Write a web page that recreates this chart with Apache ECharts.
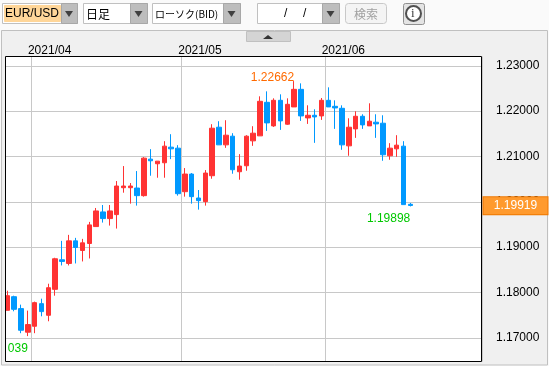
<!DOCTYPE html>
<html>
<head>
<meta charset="utf-8">
<title>EUR/USD</title>
<script src="https://cdn.jsdelivr.net/npm/echarts@6/dist/echarts.min.js"></script>
<style>
	html, body { margin: 0; padding: 0; background: #fafafa; }
	#chart { width: 549px; height: 366px; }
</style>
</head>
<body>
<div id="chart"></div>
<script>
	// trading days, one per candle
	var dates = [
		'03/26', '03/29', '03/30', '03/31', '04/01', '04/02', '04/05', '04/06', '04/07', '04/08',
		'04/09', '04/12', '04/13', '04/14', '04/15', '04/16', '04/19', '04/20', '04/21', '04/22',
		'04/23', '04/26', '04/27', '04/28', '04/29', '04/30', '05/03', '05/04', '05/05', '05/06',
		'05/07', '05/10', '05/11', '05/12', '05/13', '05/14', '05/17', '05/18', '05/19', '05/20',
		'05/21', '05/24', '05/25', '05/26', '05/27', '05/28', '05/31', '06/01', '06/02', '06/03',
		'06/04', '06/07', '06/08', '06/09', '06/10', '06/11', '06/14', '06/15', '06/16', '06/17'
	];
	var opens = [
		1.17608, 1.17908, 1.17645, 1.17125, 1.17256, 1.17755, 1.17498, 1.18070, 1.18722, 1.18641,
		1.19139, 1.18927, 1.19081, 1.19454, 1.19777, 1.19630, 1.19718, 1.20311, 1.20311, 1.20304,
		1.20136, 1.20941, 1.20839, 1.20861, 1.21205, 1.21183, 1.20223, 1.20612, 1.20084, 1.20004,
		1.20575, 1.21645, 1.21256, 1.21447, 1.20663, 1.20795, 1.21344, 1.21454, 1.22194, 1.21674,
		1.22238, 1.21711, 1.22092, 1.22480, 1.21850, 1.21908, 1.21894, 1.22238, 1.22106, 1.22062,
		1.21234, 1.21608, 1.21886, 1.21674, 1.21755, 1.21733, 1.21015, 1.21168, 1.21227, 1.19945
	];
	var closes = [
		1.17930, 1.17630, 1.17168, 1.17293, 1.17777, 1.17579, 1.18106, 1.18744, 1.18685, 1.19139,
		1.18993, 1.19095, 1.19491, 1.19799, 1.19630, 1.19799, 1.20348, 1.20348, 1.20348, 1.20136,
		1.20963, 1.20905, 1.20897, 1.21227, 1.21168, 1.20179, 1.20612, 1.20114, 1.20026, 1.20634,
		1.21623, 1.21256, 1.21469, 1.20707, 1.20788, 1.21447, 1.21513, 1.22216, 1.21740, 1.22238,
		1.21784, 1.22150, 1.22480, 1.21894, 1.21908, 1.21872, 1.22238, 1.22092, 1.22070, 1.21256,
		1.21645, 1.21886, 1.21696, 1.21777, 1.21718, 1.21037, 1.21183, 1.21249, 1.19938, 1.19919
	];
	var lows = [
		1.17608, 1.17586, 1.17103, 1.17039, 1.17103, 1.17476, 1.17366, 1.17930, 1.18597, 1.18597,
		1.18641, 1.18685, 1.18751, 1.19454, 1.19542, 1.19476, 1.19410, 1.20201, 1.19960, 1.19916,
		1.20114, 1.20575, 1.20531, 1.20531, 1.20941, 1.20136, 1.20114, 1.19960, 1.19828, 1.19916,
		1.20509, 1.21256, 1.21190, 1.20619, 1.20487, 1.20685, 1.21234, 1.21454, 1.21564, 1.21652,
		1.21586, 1.21696, 1.22092, 1.21784, 1.21718, 1.21300, 1.21806, 1.22092, 1.21608, 1.21147,
		1.21015, 1.21410, 1.21608, 1.21674, 1.21410, 1.20905, 1.20927, 1.20993, 1.19938, 1.19898
	];
	var highs = [
		1.18040, 1.17930, 1.17733, 1.17601, 1.17799, 1.17864, 1.18194, 1.18766, 1.19139, 1.19271,
		1.19205, 1.19183, 1.19557, 1.19864, 1.19930, 1.19930, 1.20458, 1.20788, 1.20414, 1.20678,
		1.20985, 1.21161, 1.20897, 1.21337, 1.21491, 1.21249, 1.20744, 1.20634, 1.20260, 1.20700,
		1.21711, 1.21777, 1.21799, 1.21513, 1.21051, 1.21469, 1.21667, 1.22326, 1.22436, 1.22282,
		1.22370, 1.22282, 1.22662, 1.22612, 1.22128, 1.22040, 1.22289, 1.22524, 1.22238, 1.22128,
		1.21842, 1.21996, 1.21930, 1.22172, 1.21930, 1.21908, 1.21293, 1.21469, 1.21337, 1.19974
	];
	var priceTicks = [1.17, 1.18, 1.19, 1.20, 1.21, 1.22, 1.23];
	var monthStarts = { '04/01': '2021/04', '05/03': '2021/05', '06/01': '2021/06' };
	var lastPrice = 1.19919;
	var highLabel = '1.22662';
	var lowLabel = '1.19898';
	var edgeLabel = '039'; // the rest of 1.17039 is cut off by the left edge

	var candles = dates.map(function(d, i) {
		return [opens[i], closes[i], lows[i], highs[i]];
	});

	var FONT = '"Liberation Sans Narrow", "Liberation Sans", sans-serif';
	var RED = '#ff3333';
	var BLUE = '#0099ff';

	function box(x, y, w, h, fill, stroke, r) {
		return {
			type: 'rect',
			z: 100,
			shape: { x: x + 0.5, y: y + 0.5, width: w, height: h, r: r || 0 },
			style: { fill: fill, stroke: stroke, lineWidth: 1 }
		};
	}

	function text(x, y, str, size, color, family) {
		return {
			type: 'text',
			z: 101,
			x: x,
			y: y,
			style: {
				text: str,
				fontSize: size,
				fill: color,
				fontFamily: family || FONT,
				verticalAlign: 'middle'
			}
		};
	}

	// arrow button on the right of a select box
	function arrowButton(x, y, w, h) {
		var mid = x + w / 2;
		return [
			box(x, y, w, h, '#bdbdbd', '#a8a8a8'),
			{
				type: 'polygon',
				z: 101,
				shape: { points: [[mid - 4, y + 8], [mid + 4, y + 8], [mid, y + 14]] },
				style: { fill: '#404040' }
			}
		];
	}

	var JP = '"Noto Sans CJK JP", sans-serif';
	var chrome = [
		// panel, behind the grid
		{ type: 'rect', z: -1, shape: { x: 1.5, y: 30.5, width: 546, height: 334.5 }, style: { fill: '#f0f0f0', stroke: '#c0c0c0', lineWidth: 1 } },
		// covers the part of the first candle that sticks out on the left
		{ type: 'rect', z: 99, shape: { x: 2, y: 50, width: 3, height: 314 }, style: { fill: '#f0f0f0' } },
		box(5, 56, 476, 305, 'transparent', '#000000'),
		box(246, 31, 44, 10, '#d4d4d4', '#c0c0c0'),
		{ type: 'polygon', z: 101, shape: { points: [[263, 39], [273, 39], [268, 35]] }, style: { fill: '#333333' } },

		box(2, 3, 75, 20, '#ffffff', '#c0c0c0'),
		box(4, 5, 56, 16, '#ffd699', '#ffd699'),
		text(5, 14, 'EUR/USD', 12, '#000000', '"Liberation Sans", sans-serif'),
		box(83, 3, 64, 20, '#ffffff', '#c0c0c0'),
		text(86, 14, '日足', 12, '#000000', JP),
		box(152, 3, 88, 20, '#ffffff', '#c0c0c0'),
		text(155, 14, 'ローソク(BID)', 10, '#000000', JP),
		box(257, 3, 82, 20, '#ffffff', '#c0c0c0'),
		text(284, 14, '/', 12, '#000000'),
		text(303, 14, '/', 12, '#000000'),
		box(345, 3, 41, 20, '#f4f4f4', '#c8c8c8', 3),
		text(354, 14, '検索', 12, '#a0a0a0', JP),
		box(403, 3, 21, 21, '#e4e4e4', '#909090', 2),
		{ type: 'circle', z: 101, shape: { cx: 413.5, cy: 13.5, r: 7.5 }, style: { fill: '#ffffff', stroke: '#505050', lineWidth: 2 } },
		text(411, 14, 'i', 13, '#404040', '"Liberation Serif", serif')
	]
		.concat(arrowButton(61, 3, 16, 20))
		.concat(arrowButton(130, 3, 17, 20))
		.concat(arrowButton(223, 3, 17, 20))
		.concat(arrowButton(322, 3, 17, 20));

	var chart = echarts.init(document.getElementById('chart'));
	var option = {
		animation: false,
		backgroundColor: 'transparent',
		textStyle: { fontFamily: FONT },
		grid: {
			left: 3.9,
			top: 56.5,
			width: 478.1,
			height: 305,
			show: true,
			backgroundColor: '#ffffff',
			borderWidth: 0
		},
		xAxis: {
			type: 'category',
			position: 'top',
			data: dates,
			max: 69,
			axisLine: { show: false },
			axisTick: { show: false },
			axisLabel: {
				interval: function(index, value) { return !!monthStarts[value]; },
				formatter: function(value) { return monthStarts[value] || ''; },
				padding: [0, 0, 0, 30],
				margin: 0,
				fontSize: 12,
				color: '#000000'
			},
			splitLine: {
				show: true,
				interval: function(index, value) { return !!monthStarts[value]; },
				lineStyle: { color: '#c8c8c8', width: 1 }
			}
		},
		yAxis: {
			type: 'value',
			position: 'right',
			min: 1.16479,
			max: 1.23204,
			axisLine: { show: false },
			axisTick: { show: false, customValues: priceTicks },
			axisLabel: {
				customValues: priceTicks,
				formatter: function(v) { return v.toFixed(5); },
				margin: 14,
				padding: [2, 0, 0, 0],
				fontSize: 12,
				color: '#000000'
			},
			splitLine: { show: true, lineStyle: { color: '#c8c8c8', width: 1 } }
		},
		series: [{
			type: 'candlestick',
			data: candles,
			barWidth: 5,
			itemStyle: {
				color: RED,
				color0: BLUE,
				borderColor: RED,
				borderColor0: BLUE,
				borderWidth: 1
			},
			markPoint: {
				symbol: 'circle',
				symbolSize: 0,
				silent: true,
				label: { position: 'left', distance: 0, fontSize: 12, fontFamily: '"Liberation Sans", sans-serif' },
				data: [
					{ coord: [42, 1.22662], value: highLabel, label: { formatter: highLabel, color: '#ff6a00', offset: [0, -3.5] } },
					{ coord: [59, 1.19898], value: lowLabel, label: { formatter: lowLabel, color: '#00c800', offset: [0, 12.5] } },
					{ coord: [3, 1.17039], value: edgeLabel, label: { formatter: edgeLabel, color: '#00c800', offset: [0, 13] } }
				]
			},
			markLine: {
				silent: true,
				symbol: 'none',
				z: 50,
				lineStyle: { color: 'transparent', width: 0 },
				label: {
					show: true,
					position: 'end',
					distance: 33.5,
					offset: [0, 4],
					formatter: lastPrice.toFixed(5),
					color: '#ffffff',
					fontSize: 12,
					backgroundColor: '#ff9a2e',
					borderColor: '#ee7700',
					borderWidth: 1,
					width: 64,
					height: 17,
					align: 'center',
					verticalAlign: 'middle'
				},
				data: [{ yAxis: lastPrice }]
			}
		}],
		graphic: { elements: chrome }
	};
	chart.setOption(option);
	window.addEventListener('resize', function() {
		chart.resize();
	});
</script>
</body>
</html>
